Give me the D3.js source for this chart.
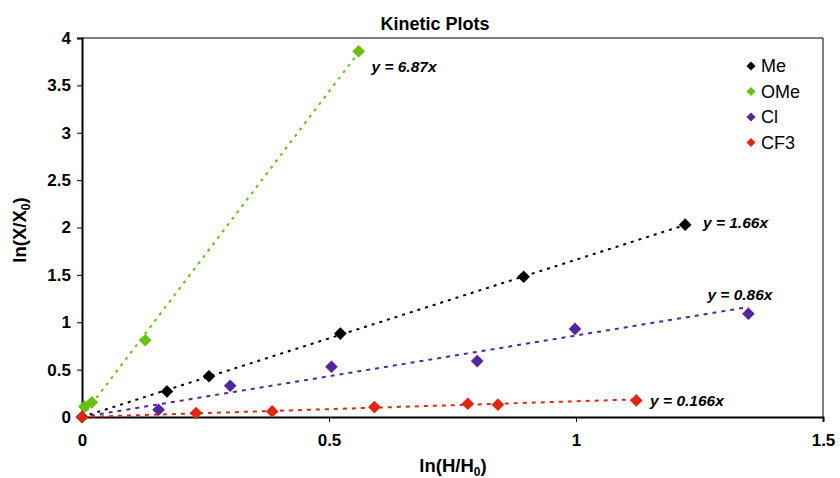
<!DOCTYPE html>
<html lang="en">
<head>
    <meta charset="UTF-8">
    <title>Kinetic Plots</title>
    <script src="https://d3js.org/d3.v7.min.js"></script>
    <style>
        body { margin: 0; background: #fff; }
        svg { font-family: Arial, "Liberation Sans", sans-serif; }
        .tick text { font-size: 17px; font-weight: bold; fill: #000; }
        .tick line { stroke: #000; stroke-width: 1px; }
        .domain { stroke: #000; stroke-width: 2px; }
        .eq { font-size: 15.5px; font-weight: bold; font-style: italic; }
        .legend text { font-size: 18px; }
    </style>
</head>
<body>
<svg id="chart"></svg>
<script>
    // series names and colours
    const seriesNames = ["Me", "OMe", "Cl", "CF3"];
    const seriesColors = ["#000000", "#66c20e", "#5126a0", "#e2260f"];

    // measured points, ln(H/H0) vs ln(X/X0)
    const meX = [0, 0.172, 0.257, 0.523, 0.894, 1.221];
    const meY = [0, 0.27, 0.43, 0.88, 1.48, 2.03];
    const omeX = [0, 0.005, 0.02, 0.128, 0.56];
    const omeY = [0, 0.11, 0.155, 0.81, 3.86];
    const clX = [0, 0.155, 0.30, 0.505, 0.80, 0.998, 1.349];
    const clY = [0, 0.077, 0.33, 0.53, 0.59, 0.93, 1.09];
    const cf3X = [0, 0.231, 0.385, 0.592, 0.781, 0.842, 1.122];
    const cf3Y = [0, 0.042, 0.059, 0.105, 0.14, 0.13, 0.175];

    // linear fits through origin
    const slopes = [1.66, 6.87, 0.86, 0.166];
    const eqLabels = ["y = 1.66x", "y = 6.87x", "y = 0.86x", "y = 0.166x"];

    const xTicks = [0, 0.5, 1, 1.5];
    const yTicks = [0, 0.5, 1, 1.5, 2, 2.5, 3, 3.5, 4];

    const width = 840, height = 478;
    const margin = { top: 38, right: 17, bottom: 61, left: 82 };
    const w = width - margin.left - margin.right;
    const h = height - margin.top - margin.bottom;

    const svg = d3.select("#chart")
        .attr("width", width)
        .attr("height", height);

    const g = svg.append("g")
        .attr("transform", "translate(" + margin.left + "," + margin.top + ")");

    const x = d3.scaleLinear().domain([0, 1.5]).range([0, w]);
    const y = d3.scaleLinear().domain([0, 4]).range([h, 0]);

    // thin frame on top and right
    g.append("path")
        .attr("d", "M0,0H" + w + "V" + h)
        .attr("fill", "none")
        .attr("stroke", "#000")
        .attr("stroke-width", 1);

    g.append("g")
        .attr("transform", "translate(0," + h + ")")
        .call(d3.axisBottom(x).tickValues(xTicks).tickSize(5).tickPadding(10).tickFormat(d3.format("")))
        .call(a => a.selectAll("text").attr("dy", "0.85em"));

    g.append("g")
        .call(d3.axisLeft(y).tickValues(yTicks).tickSize(5).tickPadding(6).tickFormat(d3.format("")));

    const allX = [meX, omeX, clX, cf3X];
    const allY = [meY, omeY, clY, cf3Y];
    const data = seriesNames.map((name, i) => ({
        name: name,
        color: seriesColors[i],
        slope: slopes[i],
        label: eqLabels[i],
        points: allX[i].map((v, j) => ({ x: v, y: allY[i][j] }))
    }));

    // trendlines
    const dashes = ["3,5", "3,5", "4,5", "4,5"];
    data.forEach((s, i) => {
        const xEnd = d3.max(s.points, d => d.x);
        g.append("line")
            .attr("x1", x(0)).attr("y1", y(0))
            .attr("x2", x(xEnd)).attr("y2", y(s.slope * xEnd))
            .attr("stroke", s.color)
            .attr("stroke-width", 2)
            .attr("stroke-dasharray", dashes[i]);
    });

    // markers
    const diamond = d3.symbol().type(d3.symbolSquare).size(80);
    data.forEach(s => {
        g.selectAll(null)
            .data(s.points)
            .enter().append("path")
            .attr("d", diamond)
            .attr("transform", d => "translate(" + x(d.x) + "," + y(d.y) + ") rotate(45)")
            .attr("fill", s.color);
    });

    // equation labels (placed in data coords)
    const eqPos = [[1.257, 2.05], [0.586, 3.70], [1.266, 1.29], [1.15, 0.17]];
    data.forEach((s, i) => {
        g.append("text")
            .attr("class", "eq")
            .attr("x", x(eqPos[i][0]))
            .attr("y", y(eqPos[i][1]))
            .attr("dy", "0.35em")
            .text(s.label);
    });

    // legend
    const legend = g.append("g")
        .attr("class", "legend")
        .attr("transform", "translate(" + (w - 72) + ",28)");
    const legSym = d3.symbol().type(d3.symbolSquare).size(42);
    seriesNames.forEach((name, i) => {
        legend.append("path")
            .attr("d", legSym)
            .attr("transform", "translate(0," + (i * 25.5) + ") rotate(45)")
            .attr("fill", seriesColors[i]);
        legend.append("text")
            .attr("x", 10)
            .attr("y", i * 25.5)
            .attr("dy", "0.36em")
            .text(name);
    });

    // title
    svg.append("text")
        .attr("x", 435)
        .attr("y", 30)
        .attr("text-anchor", "middle")
        .attr("font-size", "18px")
        .attr("font-weight", "bold")
        .text("Kinetic Plots");

    // axis titles
    const xt = svg.append("text")
        .attr("x", 453)
        .attr("y", 472)
        .attr("text-anchor", "middle")
        .attr("font-size", "18.5px")
        .attr("font-weight", "bold");
    xt.append("tspan").text("ln(H/H");
    xt.append("tspan").attr("font-size", "12px").attr("dy", "4").text("0");
    xt.append("tspan").attr("dy", "-4").text(")");

    const yt = svg.append("text")
        .attr("transform", "translate(26,230) rotate(-90)")
        .attr("text-anchor", "middle")
        .attr("font-size", "18.5px")
        .attr("font-weight", "bold");
    yt.append("tspan").text("ln(X/X");
    yt.append("tspan").attr("font-size", "12px").attr("dy", "4").text("0");
    yt.append("tspan").attr("dy", "-4").text(")");
</script>
</body>
</html>
